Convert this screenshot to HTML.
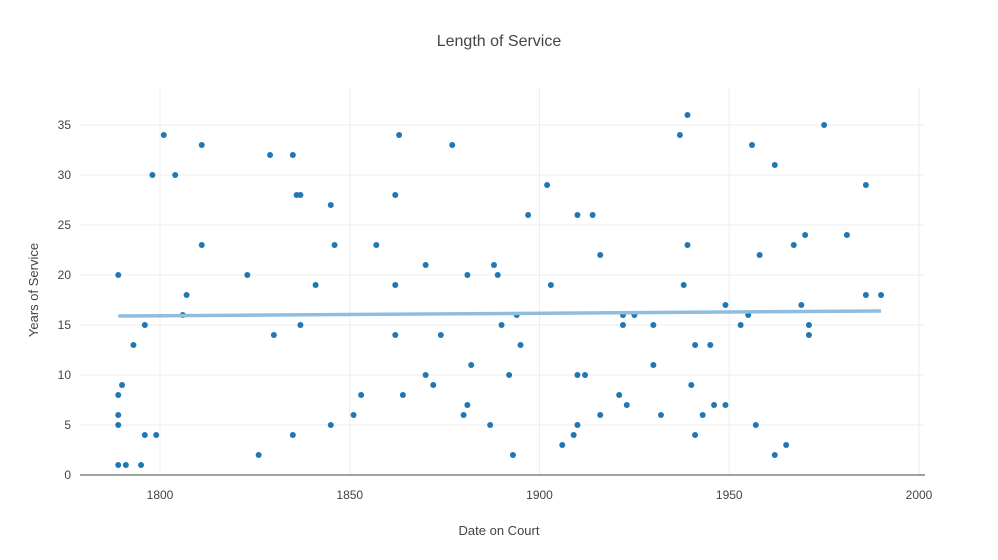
<!DOCTYPE html>
<html><head><meta charset="utf-8"><style>
body{margin:0;background:#fff;font-family:"Liberation Sans",sans-serif}
</style></head><body>
<svg id="chart" width="998" height="560" style="display:block"></svg>
<script>
const years=[1789,1789,1789,1789,1789,1790,1791,1793,1795,1796,1796,1798,1799,1801,1804,1806,1807,1811,1811,1823,1826,1829,1830,1835,1835,1836,1837,1837,1841,1845,1845,1846,1851,1853,1857,1862,1862,1862,1863,1864,1870,1870,1872,1874,1877,1880,1881,1881,1882,1887,1888,1889,1890,1892,1893,1894,1895,1897,1902,1903,1906,1909,1910,1910,1910,1912,1914,1916,1916,1921,1922,1922,1923,1925,1930,1930,1932,1937,1938,1939,1939,1940,1941,1941,1943,1945,1946,1949,1949,1953,1955,1956,1957,1958,1962,1962,1965,1967,1969,1970,1971,1971,1975,1981,1986,1986,1990];
const service=[20,8,6,5,1,9,1,13,1,15,4,30,4,34,30,16,18,33,23,20,2,32,14,32,4,28,28,15,19,27,5,23,6,8,23,28,19,14,34,8,21,10,9,14,33,6,20,7,11,5,21,20,15,10,2,16,13,26,29,19,3,4,26,10,5,10,26,22,6,8,16,15,7,16,15,11,6,34,19,36,23,9,13,4,6,13,7,17,7,15,16,33,5,22,31,2,3,23,17,24,15,14,35,24,29,18,18];
const trendX=[1789,1990];
const trendY=[15.9,16.4];
const xTicks=[1800,1850,1900,1950,2000];
const yTicks=[0,5,10,15,20,25,30,35];
const NS="http://www.w3.org/2000/svg";
const svg=document.getElementById('chart');
const L=80,R=925,T=88,B=475;
const xs=v=>160+(v-1800)*(919-160)/200;
const ys=v=>475-v*10;
function mk(t,a,p){const e=document.createElementNS(NS,t);for(const k in a)e.setAttribute(k,a[k]);(p||svg).appendChild(e);return e;}
xTicks.forEach(t=>{
 const g=mk('line',{x1:xs(t),x2:xs(t),y1:T,y2:B,stroke:'#eee'});
 
 
 const tx=mk('text',{x:xs(t),y:499,'text-anchor':'middle','font-size':12,fill:'#444'});tx.textContent=t;
 
 
});
yTicks.forEach(t=>{
 if(t>0){const g=mk('line',{x1:L,x2:R,y1:ys(t),y2:ys(t),stroke:'#eee'});
 
 }
 const tx=mk('text',{x:71,y:ys(t)+4,'text-anchor':'end','font-size':12,fill:'#444'});tx.textContent=t;
 
 
});
const ax=mk('line',{x1:L,x2:R,y1:B,y2:B,stroke:'#444','stroke-width':1});


years.forEach((y,i)=>{
 const c=mk('circle',{cx:xs(y),cy:ys(service[i]),r:3,fill:'#1f77b4'});
 
 
});
const tl=mk('line',{x1:xs(trendX[0]),y1:ys(trendY[0]),x2:xs(trendX[1]),y2:ys(trendY[1]),stroke:'#8fbde0','stroke-width':3.5});


const ti=mk('text',{x:499,y:46,'text-anchor':'middle','font-size':16,fill:'#444'});ti.textContent='Length of Service';


const xt=mk('text',{x:499,y:535,'text-anchor':'middle','font-size':13,fill:'#444'});xt.textContent='Date on Court';


const yt=mk('text',{x:0,y:0,'text-anchor':'middle','font-size':13,fill:'#444',transform:'translate(38,290) rotate(-90)'});yt.textContent='Years of Service';


</script>
</body></html>
